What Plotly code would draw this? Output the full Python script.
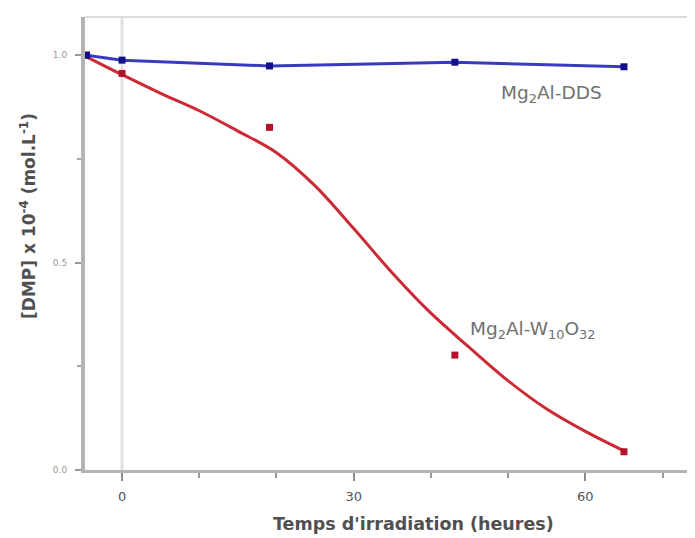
import plotly.graph_objects as go

# Data
time_h = [-4.6, 0, 19.1, 43.1, 65.0]
dds_conc = [1.0, 0.988, 0.974, 0.983, 0.972]
w10_conc = [1.0, 0.956, 0.826, 0.277, 0.044]

# Fitted curve
fit_time = [-4.6, 0, 5, 10, 15, 20, 25, 30, 35, 40, 45, 50, 55, 60, 65]
fit_conc = [0.996, 0.953, 0.908, 0.866, 0.817, 0.765, 0.685, 0.582, 0.475, 0.378,
            0.295, 0.215, 0.147, 0.093, 0.046]

x_ticks = [0, 30, 60]
y_ticks = [0.0, 0.5, 1.0]
y_ticktext = ["0.0", "0.5", "1.0"]

FONT = "DejaVu Sans"

# Page-pixel helpers (the figure sits at an 8px body offset; plot area 85..695 x 17..470)
PL, PR, PT, PB = 85, 695, 17, 470
def px_x(x): return (x - PL) / (PR - PL)
def px_y(y): return (PB - y) / (PB - PT)

fig = go.Figure()

fig.add_trace(go.Scatter(x=fit_time, y=fit_conc, mode="lines",
                         line=dict(color="#cc2a35", width=3, shape="spline", smoothing=1.0),
                         showlegend=False, hoverinfo="skip"))
fig.add_trace(go.Scatter(x=time_h, y=w10_conc, mode="markers",
                         marker=dict(symbol="square", size=7, color="#b3132a"), showlegend=False))
fig.add_trace(go.Scatter(x=time_h, y=dds_conc, mode="lines+markers",
                         line=dict(color="#3a3ac0", width=3),
                         marker=dict(symbol="square", size=7, color="#10108a"), showlegend=False))

fig.add_shape(type="line", xref="x", yref="paper", x0=0, x1=0, y0=0, y1=1,
              line=dict(color="#e2e2e2", width=3), layer="below")
fig.add_shape(type="line", xref="paper", yref="paper", x0=0, x1=1, y0=1, y1=1,
              line=dict(color="#dcdcdc", width=2), layer="below")

fig.add_annotation(xref="paper", yref="paper", x=px_x(499), y=px_y(94),
                   text="Mg<sub>2</sub>Al-DDS", showarrow=False, xanchor="left", yanchor="middle",
                   font=dict(family=FONT, size=18.5, color="#707070"))
fig.add_annotation(xref="paper", yref="paper", x=px_x(468), y=px_y(330),
                   text="Mg<sub>2</sub>Al-W<sub>10</sub>O<sub>32</sub>", showarrow=False,
                   xanchor="left", yanchor="middle",
                   font=dict(family=FONT, size=18.5, color="#707070"))

# Axis titles as annotations (placed like the reference)
fig.add_annotation(xref="paper", yref="paper", x=px_x(413), y=px_y(524),
                   text="<b>Temps d'irradiation (heures)</b>", showarrow=False,
                   xanchor="center", yanchor="middle",
                   font=dict(family=FONT, size=17.5, color="#505050"))
fig.add_annotation(xref="paper", yref="paper", x=px_x(28), y=px_y(216),
                   text="<b>[DMP] x 10<sup>-4</sup> (mol.L<sup>-1</sup>)</b>", showarrow=False,
                   textangle=-90, xanchor="center", yanchor="middle",
                   font=dict(family=FONT, size=17, color="#505050"))

fig.update_layout(
    width=687, height=530,
    margin=dict(l=77, r=0, t=9, b=68),
    plot_bgcolor="white", paper_bgcolor="white",
    font=dict(family=FONT, color="#555"),
    xaxis=dict(range=[-4.8, 74.2], tickvals=x_ticks, ticks="outside", ticklen=8, tickwidth=2,
               tickcolor="#8a8a8a", showgrid=False, zeroline=False, automargin=False,
               showline=True, linecolor="#b4b4b4", linewidth=3, ticklabelstandoff=4,
               minor=dict(dtick=10, tick0=0, ticks="outside", ticklen=5, tickwidth=2,
                          tickcolor="#9a9a9a", showgrid=False),
               tickfont=dict(family=FONT, size=13, color="#555")),
    yaxis=dict(range=[0, 1.092], tickvals=y_ticks, ticktext=y_ticktext, ticks="outside", ticklen=6,
               tickwidth=2, tickcolor="#9a9a9a", showgrid=False, zeroline=False, automargin=False,
               showline=True, linecolor="#b4b4b4", linewidth=4, ticklabelstandoff=6,
               minor=dict(dtick=0.25, tick0=0, ticks="outside", ticklen=4, tickwidth=2,
                          tickcolor="#a8a8a8", showgrid=False),
               tickfont=dict(family=FONT, size=9, color="#999")),
)

fig.write_html("out.html")
